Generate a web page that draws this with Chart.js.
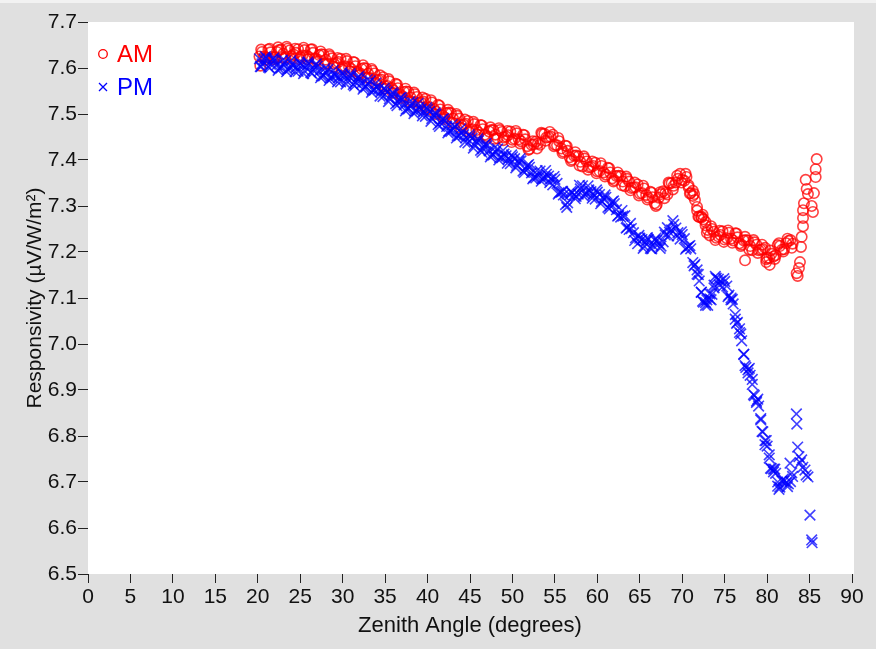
<!DOCTYPE html>
<html>
<head>
<meta charset="utf-8">
<script src="https://cdn.jsdelivr.net/npm/chart.js@4.4.1/dist/chart.umd.min.js"></script>
<style>
    body { margin: 0; background: #e0e0e0; }
    canvas { display: block; }
</style>
</head>
<body>
<canvas id="myChart" width="876" height="649"></canvas>
<script>
// AM measurements (zenith angle in degrees, responsivity in µV/W/m²)
var amAngle = [
    20.2, 20.3,
    20.5, 21.0, 21.5, 22.0, 22.5, 23.0, 23.5, 24.0, 24.5, 25.0,
    25.5, 26.0, 26.5, 27.0, 27.5, 28.0, 28.5, 29.0, 29.5, 30.0,
    30.5, 31.0, 31.5, 32.0, 32.5, 33.0, 33.5, 34.0, 34.5, 35.0,
    35.5, 36.0, 36.5, 37.0, 37.5, 38.0, 38.5, 39.0, 39.5, 40.0,
    40.5, 41.0, 41.5, 42.0, 42.5, 43.0, 43.5, 44.0, 44.5, 45.0,
    45.5, 46.0, 46.5, 47.0, 47.5, 48.0, 48.5, 49.0, 49.5, 50.0,
    50.5, 51.0, 51.5, 52.0, 52.5, 53.0, 53.5, 54.0, 54.5, 55.0,
    55.5, 56.0, 56.5, 57.0, 57.5, 58.0, 58.5, 59.0, 59.5, 60.0,
    60.5, 61.0, 61.5, 62.0, 62.5, 63.0, 63.5, 64.0, 64.5, 65.0,
    65.5, 66.0, 66.5, 67.0, 67.5, 68.0, 68.5, 69.0, 69.5, 70.0,
    70.5, 71.0, 71.5, 72.0, 72.5, 73.0, 73.5, 74.0, 74.5, 75.0,
    75.5, 76.0, 76.5, 77.0, 77.5, 78.0, 78.5, 79.0, 79.5, 80.0,
    80.5, 81.0, 81.5, 82.0, 82.5, 83.0,
    70.75, 71.25, 71.75, 72.25, 72.75,
    77.4, 79.9, 80.3,
    83.48, 83.60, 83.75, 83.87, 83.99, 84.07, 84.23, 84.23, 84.23, 84.34,
    84.66, 84.54, 84.81, 85.25, 85.40, 85.52, 85.72, 85.72, 85.84,
    // second sweep
    20.75, 21.25, 21.75, 22.25, 22.75, 23.25, 23.75, 24.25, 24.75, 25.25,
    25.75, 26.25, 26.75, 27.25, 27.75, 28.25, 28.75, 29.25, 29.75, 30.25,
    30.75, 31.25, 31.75, 32.25, 32.75, 33.25, 33.75, 34.25, 34.75, 35.25,
    35.75, 36.25, 36.75, 37.25, 37.75, 38.25, 38.75, 39.25, 39.75, 40.25,
    40.75, 41.25, 41.75, 42.25, 42.75, 43.25, 43.75, 44.25, 44.75, 45.25,
    45.75, 46.25, 46.75, 47.25, 47.75, 48.25, 48.75, 49.25, 49.75, 50.25,
    50.75, 51.25, 51.75, 52.25, 52.75, 53.25, 53.75, 54.25, 54.75, 55.25,
    55.75, 56.25, 56.75, 57.25, 57.75, 58.25, 58.75, 59.25, 59.75, 60.25,
    60.75, 61.25, 61.75, 62.25, 62.75, 63.25, 63.75, 64.25, 64.75, 65.25,
    65.75, 66.25, 66.75, 67.25, 67.75, 68.25, 68.75, 69.25, 69.75, 70.25,
    70.75, 71.25, 71.75, 72.25, 72.75, 73.25, 73.75, 74.25, 74.75, 75.25,
    75.75, 76.25, 76.75, 77.25, 77.75, 78.25, 78.75, 79.25, 79.75, 80.25,
    80.75, 81.25, 81.75, 82.25, 82.75,
    // third sweep
    20.4, 20.9, 21.4, 21.9, 22.4, 22.9, 23.4, 23.9, 24.4, 24.9,
    25.4, 25.9, 26.4, 26.9, 27.4, 27.9, 28.4, 28.9, 29.4, 29.9,
    30.4, 30.9, 31.4, 31.9, 32.4, 32.9, 33.4, 33.9, 34.4, 34.9,
    35.4, 35.9, 36.4, 36.9, 37.4, 37.9, 38.4, 38.9, 39.4, 39.9,
    40.4, 40.9, 41.4, 41.9, 42.4, 42.9, 43.4, 43.9, 44.4, 44.9,
    45.4, 45.9, 46.4, 46.9, 47.4, 47.9, 48.4, 48.9, 49.4, 49.9,
    50.4, 50.9, 51.4, 51.9, 52.4, 52.9, 53.4, 53.9, 54.4, 54.9,
    55.4, 55.9, 56.4, 56.9, 57.4, 57.9, 58.4, 58.9, 59.4, 59.9,
    60.4, 60.9, 61.4, 61.9, 62.4, 62.9, 63.4, 63.9, 64.4, 64.9,
    65.4, 65.9, 66.4, 66.9, 67.4, 67.9, 68.4, 68.9, 69.4, 69.9,
    70.4, 70.9, 71.4, 71.9, 72.4, 72.9, 73.4, 73.9, 74.4, 74.9,
    75.4, 75.9, 76.4, 76.9, 77.4, 77.9, 78.4, 78.9, 79.4, 79.9,
    80.4, 80.9, 81.4, 81.9, 82.4, 82.9
];
var amResp = [
    7.625, 7.605,
    7.635, 7.623, 7.634, 7.623, 7.639, 7.631, 7.642, 7.626, 7.633, 7.624,
    7.639, 7.624, 7.633, 7.619, 7.630, 7.618, 7.626, 7.609, 7.613, 7.602,
    7.615, 7.598, 7.604, 7.589, 7.600, 7.588, 7.594, 7.574, 7.575, 7.560,
    7.571, 7.551, 7.556, 7.539, 7.549, 7.536, 7.543, 7.524, 7.527, 7.514,
    7.525, 7.505, 7.510, 7.493, 7.503, 7.490, 7.496, 7.476, 7.479, 7.466,
    7.478, 7.460, 7.467, 7.452, 7.465, 7.455, 7.465, 7.449, 7.454, 7.444,
    7.458, 7.441, 7.445, 7.424, 7.434, 7.436, 7.457, 7.449, 7.451, 7.433,
    7.441, 7.418, 7.420, 7.401, 7.410, 7.396, 7.403, 7.384, 7.387, 7.375,
    7.387, 7.368, 7.373, 7.356, 7.366, 7.353, 7.359, 7.339, 7.341, 7.327,
    7.338, 7.318, 7.319, 7.303, 7.326, 7.328, 7.349, 7.344, 7.359, 7.357,
    7.363, 7.328, 7.313, 7.276, 7.271, 7.248, 7.250, 7.231, 7.237, 7.227,
    7.242, 7.225, 7.232, 7.216, 7.226, 7.213, 7.221, 7.204, 7.206, 7.187,
    7.196, 7.193, 7.213, 7.206, 7.224, 7.218,
    7.345, 7.322, 7.298, 7.275, 7.258,
    7.182, 7.178, 7.172,
    7.154, 7.148, 7.165, 7.178, 7.211, 7.233, 7.256, 7.274, 7.291, 7.306,
    7.337, 7.357, 7.326, 7.300, 7.287, 7.328, 7.363, 7.380, 7.402,
    // second sweep
    7.625, 7.640, 7.624, 7.635, 7.640, 7.623, 7.638, 7.629, 7.641, 7.627,
    7.627, 7.640, 7.621, 7.628, 7.629, 7.609, 7.621, 7.611, 7.620, 7.604,
    7.602, 7.613, 7.592, 7.598, 7.599, 7.578, 7.588, 7.574, 7.580, 7.561,
    7.557, 7.566, 7.543, 7.548, 7.548, 7.526, 7.537, 7.525, 7.533, 7.515,
    7.511, 7.520, 7.497, 7.502, 7.502, 7.480, 7.490, 7.477, 7.485, 7.467,
    7.465, 7.476, 7.455, 7.462, 7.465, 7.447, 7.461, 7.451, 7.462, 7.446,
    7.445, 7.455, 7.430, 7.433, 7.440, 7.433, 7.457, 7.450, 7.455, 7.432,
    7.425, 7.431, 7.406, 7.409, 7.408, 7.386, 7.397, 7.385, 7.394, 7.376,
    7.373, 7.383, 7.360, 7.365, 7.365, 7.343, 7.353, 7.340, 7.347, 7.328,
    7.324, 7.331, 7.306, 7.318, 7.332, 7.325, 7.350, 7.351, 7.370, 7.355,
    7.341, 7.333, 7.290, 7.277, 7.265, 7.236, 7.244, 7.234, 7.245, 7.230,
    7.229, 7.241, 7.219, 7.225, 7.225, 7.204, 7.216, 7.205, 7.209, 7.187,
    7.190, 7.215, 7.205, 7.219, 7.226,
    // third sweep
    7.640, 7.618, 7.642, 7.619, 7.645, 7.622, 7.646, 7.620, 7.642, 7.619,
    7.644, 7.619, 7.641, 7.615, 7.636, 7.609, 7.630, 7.603, 7.622, 7.597,
    7.620, 7.593, 7.612, 7.585, 7.606, 7.579, 7.598, 7.568, 7.584, 7.555,
    7.576, 7.546, 7.564, 7.535, 7.555, 7.527, 7.547, 7.518, 7.536, 7.509,
    7.530, 7.500, 7.518, 7.489, 7.509, 7.481, 7.500, 7.470, 7.488, 7.461,
    7.483, 7.455, 7.475, 7.448, 7.471, 7.446, 7.469, 7.443, 7.463, 7.439,
    7.463, 7.436, 7.454, 7.422, 7.441, 7.425, 7.459, 7.442, 7.461, 7.430,
    7.448, 7.415, 7.430, 7.398, 7.417, 7.388, 7.408, 7.379, 7.397, 7.371,
    7.393, 7.364, 7.382, 7.353, 7.373, 7.345, 7.364, 7.334, 7.351, 7.323,
    7.344, 7.314, 7.329, 7.300, 7.330, 7.317, 7.351, 7.336, 7.366, 7.351,
    7.370, 7.327, 7.326, 7.277, 7.281, 7.242, 7.256, 7.226, 7.246, 7.222,
    7.247, 7.220, 7.240, 7.213, 7.233, 7.205, 7.226, 7.198, 7.216, 7.184,
    7.203, 7.185, 7.219, 7.201, 7.229, 7.209
];

// PM measurements
var pmAngle = [
    20.2, 20.3,
    20.5, 21.0, 21.5, 22.0, 22.5, 23.0, 23.5, 24.0, 24.5, 25.0,
    25.5, 26.0, 26.5, 27.0, 27.5, 28.0, 28.5, 29.0, 29.5, 30.0,
    30.5, 31.0, 31.5, 32.0, 32.5, 33.0, 33.5, 34.0, 34.5, 35.0,
    35.5, 36.0, 36.5, 37.0, 37.5, 38.0, 38.5, 39.0, 39.5, 40.0,
    40.5, 41.0, 41.5, 42.0, 42.5, 43.0, 43.5, 44.0, 44.5, 45.0,
    45.5, 46.0, 46.5, 47.0, 47.5, 48.0, 48.5, 49.0, 49.5, 50.0,
    50.5, 51.0, 51.5, 52.0, 52.5, 53.0, 53.5, 54.0, 54.5, 55.0,
    55.5, 56.0, 56.5, 57.0, 57.5, 58.0, 58.5, 59.0, 59.5, 60.0,
    60.5, 61.0, 61.5, 62.0, 62.5, 63.0, 63.5, 64.0, 64.5, 65.0,
    65.5, 66.0, 66.5, 67.0, 67.5, 68.0, 68.5, 69.0, 69.5, 70.0,
    70.5, 71.0, 71.5, 72.0, 72.5, 73.0, 73.5, 74.0, 74.5, 75.0,
    75.5, 76.0, 76.5, 77.0, 77.5, 78.0, 78.5, 79.0, 79.5, 80.0,
    80.5, 81.0, 81.5, 82.0, 82.5, 83.0,
    71.75, 72.25, 72.75, 73.25, 73.75, 75.75, 76.25, 76.75, 77.25, 77.75,
    78.25, 78.75, 79.25, 79.75, 80.25, 80.75, 81.25,
    82.7, 83.45, 83.5, 83.6, 83.75, 83.9, 84.07, 84.2, 84.46, 84.6,
    84.81, 85.05, 85.25, 85.3,
    // second sweep
    20.75, 21.25, 21.75, 22.25, 22.75, 23.25, 23.75, 24.25, 24.75, 25.25,
    25.75, 26.25, 26.75, 27.25, 27.75, 28.25, 28.75, 29.25, 29.75, 30.25,
    30.75, 31.25, 31.75, 32.25, 32.75, 33.25, 33.75, 34.25, 34.75, 35.25,
    35.75, 36.25, 36.75, 37.25, 37.75, 38.25, 38.75, 39.25, 39.75, 40.25,
    40.75, 41.25, 41.75, 42.25, 42.75, 43.25, 43.75, 44.25, 44.75, 45.25,
    45.75, 46.25, 46.75, 47.25, 47.75, 48.25, 48.75, 49.25, 49.75, 50.25,
    50.75, 51.25, 51.75, 52.25, 52.75, 53.25, 53.75, 54.25, 54.75, 55.25,
    55.75, 56.25, 56.75, 57.25, 57.75, 58.25, 58.75, 59.25, 59.75, 60.25,
    60.75, 61.25, 61.75, 62.25, 62.75, 63.25, 63.75, 64.25, 64.75, 65.25,
    65.75, 66.25, 66.75, 67.25, 67.75, 68.25, 68.75, 69.25, 69.75, 70.25,
    70.75, 71.25, 71.75, 72.25, 72.75, 73.25, 73.75, 74.25, 74.75, 75.25,
    75.75, 76.25, 76.75, 77.25, 77.75, 78.25, 78.75, 79.25, 79.75, 80.25,
    80.75, 81.25, 81.75, 82.25, 82.75,
    // third sweep
    20.4, 20.9, 21.4, 21.9, 22.4, 22.9, 23.4, 23.9, 24.4, 24.9,
    25.4, 25.9, 26.4, 26.9, 27.4, 27.9, 28.4, 28.9, 29.4, 29.9,
    30.4, 30.9, 31.4, 31.9, 32.4, 32.9, 33.4, 33.9, 34.4, 34.9,
    35.4, 35.9, 36.4, 36.9, 37.4, 37.9, 38.4, 38.9, 39.4, 39.9,
    40.4, 40.9, 41.4, 41.9, 42.4, 42.9, 43.4, 43.9, 44.4, 44.9,
    45.4, 45.9, 46.4, 46.9, 47.4, 47.9, 48.4, 48.9, 49.4, 49.9,
    50.4, 50.9, 51.4, 51.9, 52.4, 52.9, 53.4, 53.9, 54.4, 54.9,
    55.4, 55.9, 56.4, 56.9, 57.4, 57.9, 58.4, 58.9, 59.4, 59.9,
    60.4, 60.9, 61.4, 61.9, 62.4, 62.9, 63.4, 63.9, 64.4, 64.9,
    65.4, 65.9, 66.4, 66.9, 67.4, 67.9, 68.4, 68.9, 69.4, 69.9,
    70.4, 70.9, 71.4, 71.9, 72.4, 72.9, 73.4, 73.9, 74.4, 74.9,
    75.4, 75.9, 76.4, 76.9, 77.4, 77.9, 78.4, 78.9, 79.4, 79.9,
    80.4, 80.9, 81.4, 81.9, 82.4, 82.9
];
var pmResp = [
    7.620, 7.603,
    7.609, 7.621, 7.608, 7.617, 7.599, 7.608, 7.597, 7.608, 7.601, 7.609,
    7.594, 7.609, 7.596, 7.604, 7.583, 7.590, 7.578, 7.587, 7.579, 7.586,
    7.571, 7.584, 7.569, 7.577, 7.558, 7.566, 7.552, 7.559, 7.548, 7.552,
    7.533, 7.543, 7.526, 7.531, 7.511, 7.518, 7.506, 7.515, 7.505, 7.510,
    7.490, 7.499, 7.481, 7.485, 7.463, 7.468, 7.453, 7.460, 7.448, 7.451,
    7.432, 7.442, 7.425, 7.431, 7.411, 7.418, 7.405, 7.413, 7.402, 7.407,
    7.388, 7.398, 7.380, 7.384, 7.362, 7.367, 7.359, 7.369, 7.359, 7.358,
    7.329, 7.324, 7.307, 7.329, 7.321, 7.337, 7.326, 7.335, 7.325, 7.330,
    7.310, 7.319, 7.301, 7.305, 7.280, 7.278, 7.254, 7.251, 7.231, 7.230,
    7.213, 7.227, 7.215, 7.225, 7.213, 7.237, 7.243, 7.260, 7.242, 7.238,
    7.209, 7.207, 7.173, 7.137, 7.091, 7.084, 7.108, 7.143, 7.137, 7.136,
    7.106, 7.087, 7.047, 7.007, 6.949, 6.932, 6.888, 6.865, 6.809, 6.778,
    6.729, 6.719, 6.689, 6.702, 6.696, 6.712,
    7.152, 7.112, 7.090, 7.098, 7.128, 7.096, 7.064, 7.025, 6.978, 6.944,
    6.912, 6.876, 6.835, 6.790, 6.752, 6.722, 6.700,
    6.741, 6.848, 6.826, 6.776, 6.755, 6.742, 6.748, 6.732, 6.726, 6.715,
    6.711, 6.628, 6.574, 6.568,
    // second sweep
    7.619, 7.602, 7.619, 7.607, 7.600, 7.615, 7.599, 7.606, 7.593, 7.607,
    7.605, 7.590, 7.606, 7.593, 7.583, 7.597, 7.579, 7.584, 7.570, 7.584,
    7.581, 7.564, 7.579, 7.567, 7.559, 7.572, 7.552, 7.555, 7.538, 7.548,
    7.542, 7.522, 7.535, 7.520, 7.511, 7.525, 7.507, 7.511, 7.495, 7.505,
    7.498, 7.477, 7.489, 7.473, 7.462, 7.473, 7.453, 7.455, 7.437, 7.447,
    7.441, 7.421, 7.434, 7.420, 7.411, 7.424, 7.405, 7.409, 7.392, 7.403,
    7.397, 7.376, 7.388, 7.372, 7.361, 7.376, 7.360, 7.365, 7.346, 7.349,
    7.330, 7.303, 7.324, 7.324, 7.326, 7.344, 7.327, 7.331, 7.315, 7.325,
    7.318, 7.297, 7.309, 7.292, 7.276, 7.279, 7.249, 7.242, 7.218, 7.227,
    7.224, 7.208, 7.226, 7.218, 7.222, 7.253, 7.248, 7.252, 7.228, 7.229,
    7.212, 7.177, 7.161, 7.113, 7.084, 7.109, 7.122, 7.141, 7.124, 7.126,
    7.100, 7.054, 7.033, 6.977, 6.937, 6.923, 6.873, 6.838, 6.781, 6.759,
    6.728, 6.691, 6.702, 6.698, 6.701,
    // third sweep
    7.603, 7.625, 7.600, 7.622, 7.595, 7.617, 7.592, 7.616, 7.592, 7.613,
    7.588, 7.613, 7.588, 7.609, 7.579, 7.599, 7.573, 7.595, 7.570, 7.590,
    7.565, 7.588, 7.561, 7.582, 7.554, 7.575, 7.547, 7.567, 7.539, 7.556,
    7.527, 7.547, 7.518, 7.536, 7.507, 7.527, 7.501, 7.523, 7.496, 7.514,
    7.484, 7.503, 7.473, 7.490, 7.459, 7.477, 7.448, 7.468, 7.439, 7.455,
    7.426, 7.446, 7.417, 7.436, 7.407, 7.427, 7.400, 7.421, 7.393, 7.411,
    7.383, 7.403, 7.373, 7.390, 7.359, 7.377, 7.354, 7.377, 7.351, 7.364,
    7.326, 7.332, 7.297, 7.332, 7.316, 7.345, 7.321, 7.344, 7.317, 7.335,
    7.305, 7.324, 7.294, 7.311, 7.278, 7.290, 7.252, 7.262, 7.225, 7.236,
    7.208, 7.231, 7.207, 7.230, 7.208, 7.243, 7.235, 7.268, 7.235, 7.244,
    7.206, 7.214, 7.170, 7.151, 7.093, 7.096, 7.096, 7.147, 7.128, 7.142,
    7.103, 7.097, 7.045, 7.022, 6.953, 6.947, 6.890, 6.880, 6.810, 6.790,
    6.730, 6.728, 6.684, 6.706, 6.690, 6.720
];

var xMin = 0, xMax = 90, xStep = 5;
var yMin = 6.5, yMax = 7.7, yStep = 0.1;

var fontFamily = "'Liberation Sans', Arial, sans-serif";

function toPoints(xs, ys) {
    var pts = [];
    for (var i = 0; i < xs.length; i++) {
        pts.push({ x: xs[i], y: ys[i] });
    }
    return pts;
}

// grey page, white plot area
var plotBackground = {
    id: 'plotBackground',
    beforeDraw: function(chart) {
        var ctx = chart.ctx, a = chart.chartArea;
        ctx.save();
        ctx.fillStyle = '#e0e0e0';
        ctx.fillRect(0, 0, chart.width, chart.height);
        ctx.fillStyle = '#f2f2f2';
        ctx.fillRect(0, 0, chart.width, 3);
        ctx.fillStyle = '#ffffff';
        ctx.fillRect(a.left, a.top, a.right - a.left + 2, a.bottom - a.top);
        ctx.restore();
    }
};

// legend in the top-left corner of the plot, text coloured like the marks
var cornerLegend = {
    id: 'cornerLegend',
    afterDatasetsDraw: function(chart) {
        var ctx = chart.ctx, a = chart.chartArea;
        var rows = [chart.data.datasets[0], chart.data.datasets[1]];
        ctx.save();
        ctx.font = '24px ' + fontFamily;
        ctx.textBaseline = 'middle';
        for (var i = 0; i < rows.length; i++) {
            var ds = rows[i];
            var mx = a.left + 15, my = a.top + 32 + i * 33;
            ctx.strokeStyle = ds.legendColor;
            ctx.lineWidth = 1.3;
            ctx.beginPath();
            if (ds.pointStyle === 'circle') {
                ctx.arc(mx, my, 4.3, 0, Math.PI * 2);
            } else {
                ctx.moveTo(mx - 4, my - 4); ctx.lineTo(mx + 4, my + 4);
                ctx.moveTo(mx + 4, my - 4); ctx.lineTo(mx - 4, my + 4);
            }
            ctx.stroke();
            ctx.fillStyle = ds.legendColor;
            ctx.fillText(ds.label, a.left + 29, my + 1);
        }
        ctx.restore();
    }
};

var ctx = document.getElementById('myChart').getContext('2d');
var myChart = new Chart(ctx, {
    type: 'scatter',
    data: {
        datasets: [{
            label: 'AM',
            data: toPoints(amAngle, amResp),
            pointStyle: 'circle',
            pointRadius: 5.2,
            borderWidth: 1.6,
            borderColor: 'rgba(255, 0, 0, 0.75)',
            backgroundColor: 'rgba(0, 0, 0, 0)',
            legendColor: '#ff0000',
            order: 1
        }, {
            label: 'PM',
            data: toPoints(pmAngle, pmResp),
            pointStyle: 'crossRot',
            pointRadius: 7.5,
            borderWidth: 1.6,
            borderColor: 'rgba(0, 0, 255, 0.75)',
            backgroundColor: 'rgba(0, 0, 255, 0.75)',
            legendColor: '#0000ff',
            order: 0
        }]
    },
    options: {
        responsive: false,
        animation: false,
        layout: { padding: { left: 0, right: 24, top: 22, bottom: 0 } },
        plugins: {
            legend: { display: false },
            tooltip: { enabled: false }
        },
        scales: {
            x: {
                type: 'linear',
                min: xMin,
                max: xMax,
                border: { display: false },
                grid: { drawOnChartArea: false, drawTicks: true, tickLength: 9, color: '#222' },
                ticks: {
                    stepSize: xStep,
                    autoSkip: false,
                    maxRotation: 0,
                    padding: 2,
                    color: '#111',
                    font: { family: fontFamily, size: 21 }
                },
                title: {
                    display: true,
                    text: 'Zenith Angle (degrees)',
                    color: '#111',
                    font: { family: fontFamily, size: 22 },
                    padding: { top: 0, bottom: 10 }
                },
                afterFit: function(scale) { scale.height = 75; }
            },
            y: {
                type: 'linear',
                min: yMin,
                max: yMax,
                border: { display: false },
                grid: { drawOnChartArea: false, drawTicks: true, tickLength: 10, color: '#222' },
                ticks: {
                    stepSize: yStep,
                    padding: 1,
                    color: '#111',
                    font: { family: fontFamily, size: 21 },
                    callback: function(v) { return v.toFixed(1); }
                },
                title: {
                    display: true,
                    text: 'Responsivity (µV/W/m²)',
                    color: '#111',
                    font: { family: fontFamily, size: 21 },
                    padding: { top: 23, bottom: 0 }
                },
                afterFit: function(scale) { scale.width = 88; }
            }
        }
    },
    plugins: [plotBackground, cornerLegend]
});
</script>
</body>
</html>
